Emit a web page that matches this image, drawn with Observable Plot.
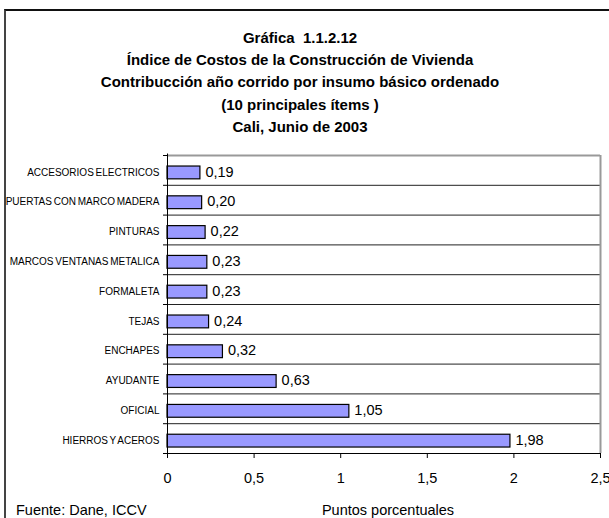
<!DOCTYPE html>
<html>
<head>
<meta charset="utf-8">
<script src="https://cdn.jsdelivr.net/npm/d3@7"></script>
<script src="https://cdn.jsdelivr.net/npm/@observablehq/plot@0.6"></script>
<style>
  html, body { margin: 0; padding: 0; background: #fff; }
  #wrap { position: relative; width: 609px; height: 518px; overflow: hidden; font-family: "Liberation Sans", Arial, sans-serif; color: #000; }
  #frame { position: absolute; left: 4px; top: 9px; width: 700px; height: 600px; border-top: 2px solid #111; border-left: 2px solid #444; box-sizing: border-box; }
  #title { position: absolute; left: 0; top: 27px; width: 600px; text-align: center; font-weight: bold; font-size: 15px; line-height: 22.2px; }
  #chart { position: absolute; left: 0; top: 0; }
  #source { position: absolute; left: 16px; top: 501px; font-size: 14.5px; line-height: 18px; }
  #xlabel { position: absolute; left: 388px; top: 501px; transform: translateX(-50%); font-size: 14.5px; line-height: 18px; white-space: nowrap; }
</style>
</head>
<body>
<div id="wrap">
  <div id="frame"></div>
  <div id="chart"></div>
  <div id="title">
    <div>Gráfica&nbsp; 1.1.2.12</div>
    <div>Índice de Costos de la Construcción de Vivienda</div>
    <div>Contribucción año corrido por insumo básico ordenado</div>
    <div>(10 principales ítems )</div>
    <div>Cali, Junio de 2003</div>
  </div>
  <div id="source">Fuente: Dane, ICCV</div>
  <div id="xlabel">Puntos porcentuales</div>
</div>
<script>
const categories = [
  "ACCESORIOS ELECTRICOS",
  "PUERTAS CON MARCO MADERA",
  "PINTURAS",
  "MARCOS VENTANAS METALICA",
  "FORMALETA",
  "TEJAS",
  "ENCHAPES",
  "AYUDANTE",
  "OFICIAL",
  "HIERROS Y ACEROS"
];
const values = [0.19, 0.20, 0.22, 0.23, 0.23, 0.24, 0.32, 0.63, 1.05, 1.98];
const xTicks = [0, 0.5, 1, 1.5, 2, 2.5];

const rows = categories.map((name, i) => ({name, value: values[i], i}));
const comma = d => String(d).replace(".", ",");
const fmt2 = d => d3.format(".2f")(d).replace(".", ",");
const font = "'Liberation Sans', Arial, sans-serif";

const chart = Plot.plot({
  width: 609,
  height: 518,
  marginLeft: 167,
  marginRight: 9,
  marginTop: 155,
  marginBottom: 65,
  style: {background: "transparent", fontFamily: font, color: "#000"},
  x: {domain: [0, 2.5]},
  y: {domain: [0, 10], reverse: true},
  marks: [
    Plot.rectX([0], {x1: 0, x2: 2.5, y1: 0, y2: 10, fill: "#fff"}),
    Plot.ruleY(d3.range(1, 10), {x1: 0, x2: 2.5, stroke: "#222", strokeWidth: 1}),
    Plot.ruleY([0], {x1: 0, x2: 2.5, stroke: "#999", strokeWidth: 2}),
    Plot.ruleX([2.5], {y1: 0, y2: 10, stroke: "#999", strokeWidth: 2}),
    Plot.rectX(rows, {x1: 0, x2: "value", y1: d => d.i + 0.37, y2: d => d.i + 0.8, fill: "#9999ff", stroke: "#000", strokeWidth: 1.2}),
    Plot.ruleY([10], {x1: 0, x2: 2.5, stroke: "#000", strokeWidth: 1}),
    Plot.ruleX([0], {y1: -0.05, y2: 10, stroke: "#000", strokeWidth: 1}),
    Plot.axisY({ticks: d3.range(0, 11), tickSize: 4, tickFormat: () => "", anchor: "left", stroke: "#000"}),
    Plot.axisX({ticks: xTicks, tickSize: 5, tickPadding: 14, tickFormat: comma, anchor: "bottom", fontSize: 14.5, label: null, stroke: "#000"}),
    Plot.text(rows, {x: 0, y: d => d.i + 0.57, text: "name", textAnchor: "end", dx: -8, fontSize: 10, fill: "#000"}),
    Plot.text(rows, {x: "value", y: d => d.i + 0.55, text: d => fmt2(d.value), textAnchor: "start", dx: 5, fontSize: 14.5, fill: "#000"})
  ]
});
chart.querySelectorAll("text").forEach(t => t.style.wordSpacing = "-1px");
document.getElementById("chart").appendChild(chart);
</script>
</body>
</html>
